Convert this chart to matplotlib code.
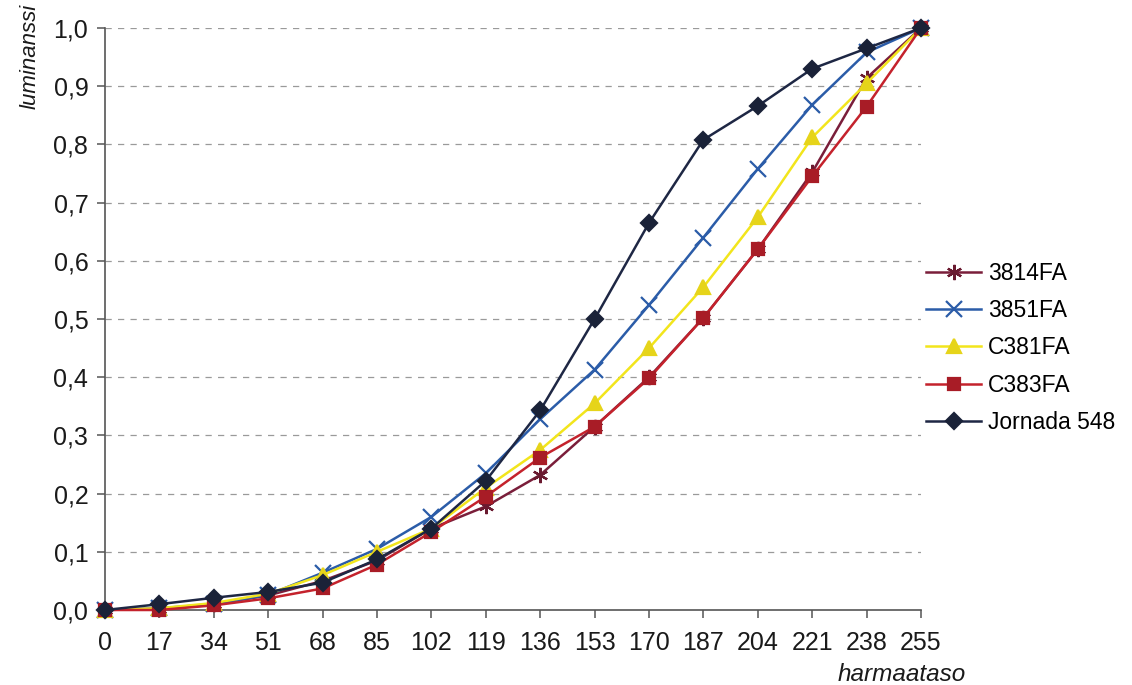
import matplotlib
matplotlib.use("Agg")
import matplotlib.pyplot as plt

plt.rcParams['font.family'] = ['Liberation Sans', 'DejaVu Sans']

# harmaatasot (x) ja mitatut luminanssit (y)
levels = [0, 17, 34, 51, 68, 85, 102, 119, 136, 153, 170, 187, 204, 221, 238, 255]

lum_3814 = [0.0, 0.002, 0.010, 0.025, 0.050, 0.085, 0.140, 0.178, 0.232, 0.315,
            0.400, 0.502, 0.620, 0.752, 0.914, 1.0]
lum_3851 = [0.0, 0.003, 0.010, 0.026, 0.064, 0.105, 0.160, 0.235, 0.328, 0.413,
            0.524, 0.640, 0.758, 0.868, 0.958, 1.0]
lum_c381 = [0.0, 0.003, 0.012, 0.028, 0.060, 0.100, 0.140, 0.210, 0.275, 0.355,
            0.450, 0.555, 0.675, 0.812, 0.905, 1.0]
lum_c383 = [0.0, 0.0, 0.008, 0.020, 0.037, 0.078, 0.134, 0.195, 0.262, 0.315,
            0.398, 0.502, 0.620, 0.745, 0.865, 1.0]
lum_jornada = [0.0, 0.010, 0.021, 0.031, 0.047, 0.087, 0.140, 0.222, 0.343, 0.500,
               0.665, 0.808, 0.866, 0.930, 0.965, 1.0]

series = [
    ('3814FA', lum_3814, '#7a1e3a', (6, 2, 0), 11, '#6a1a30'),
    ('3851FA', lum_3851, '#2b5ca8', 'x', 12, '#2b5ca8'),
    ('C381FA', lum_c381, '#f2e51c', '^', 10, '#e6d41a'),
    ('C383FA', lum_c383, '#c4222c', 's', 9, '#a81c26'),
    ('Jornada 548', lum_jornada, '#1e2744', 'D', 8, '#1a2238'),
]

fig = plt.figure(figsize=(11.32, 6.85), dpi=100)
ax = fig.add_axes([105 / 1132, 1 - 610 / 685, 816 / 1132, 582 / 685])

for name, vals, col, mk, ms, mcol in series:
    ax.plot(levels, vals, color=col, lw=1.8, marker=mk, markersize=ms,
            markerfacecolor=mcol, markeredgecolor=mcol, markeredgewidth=1.6,
            label=name, clip_on=False, zorder=3)

ax.set_xlim(0, 255)
ax.set_ylim(0, 1.0)
ax.set_xticks(levels)
ax.set_xticklabels([str(v) for v in levels])
yt = [i / 10 for i in range(11)]
ax.set_yticks(yt)
ax.set_yticklabels([f"{v:.1f}".replace('.', ',') for v in yt])

for y in yt[1:]:
    ax.axhline(y, color='#9a9a9a', lw=0.9, ls=(0, (5, 5)), zorder=1)

for s in ['top', 'right']:
    ax.spines[s].set_visible(False)
for s in ['left', 'bottom']:
    ax.spines[s].set_color('#555555')
    ax.spines[s].set_linewidth(1.2)

ax.tick_params(axis='both', direction='out', length=6, width=1.1, color='#555555',
               labelsize=18, labelcolor='#1a1a1a')
ax.tick_params(axis='y', pad=6)
ax.tick_params(axis='x', pad=9)

fig.text(30 / 1132, 1 - 4 / 685, 'luminanssi', rotation=90, va='top', ha='center',
         style='italic', fontsize=16, color='#1a1a1a')
fig.text(902 / 1132, 1 - 681 / 685, 'harmaataso', va='baseline', ha='center',
         style='italic', fontsize=17.5, color='#1a1a1a')

fig.legend(loc='center left', bbox_to_anchor=(926 / 1132, 1 - 348 / 685),
           frameon=False, fontsize=16.5, handlelength=2.4, handletextpad=0.3,
           labelspacing=0.62, borderpad=0, borderaxespad=0)

fig.savefig('out.png', dpi=100, facecolor='white')
